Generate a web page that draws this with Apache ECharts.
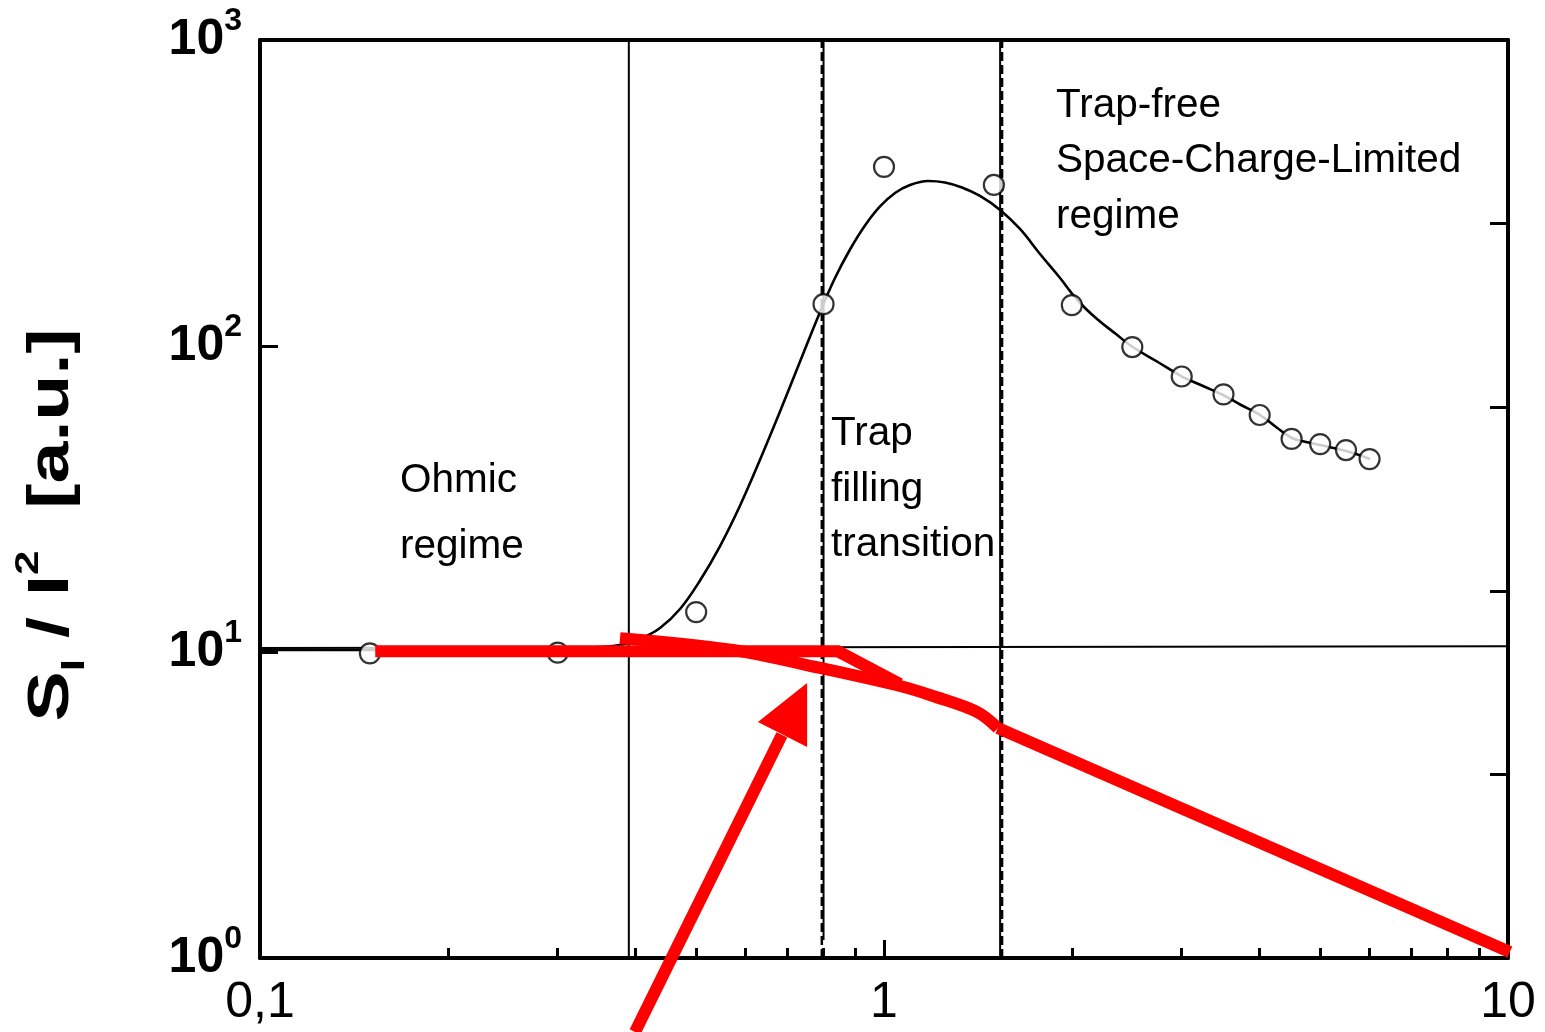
<!DOCTYPE html>
<html>
<head>
<meta charset="utf-8">
<script src="https://cdn.jsdelivr.net/npm/echarts@6/dist/echarts.min.js"></script>
<style>
  html, body { margin: 0; padding: 0; background: #ffffff; }
  #chart { width: 1545px; height: 1032px; }
</style>
</head>
<body>
<div id="chart"></div>
<script>
// Measured normalized noise S_I / I^2 versus bias
const measuredX = [0.15, 0.3, 0.5, 0.8, 1.0, 1.5, 2.0, 2.5, 3.0, 3.5, 4.0, 4.5, 5.0, 5.5, 6.0];
const measuredY = [9.9, 9.95, 13.5, 137, 385, 336, 136, 99.2, 79.5, 69.5, 59.5, 49.7, 47.8, 45.7, 42.7];

// Model curve across the three regimes
const fitX = [0.1, 0.2016, 0.3025, 0.3507, 0.3776, 0.4064, 0.4376, 0.4711, 0.5072, 0.5461,
              0.588, 0.6331, 0.6813, 0.7336, 0.7899, 0.8346, 0.8821, 0.9323, 0.9854, 1.0414, 1.1007,
              1.1761, 1.2524, 1.3335, 1.4251, 1.5347, 1.6517, 1.7783, 1.9149, 2.001, 2.1073, 2.219,
              2.3537, 2.4967, 2.7384, 3.0036, 3.245, 3.4939, 3.7337, 4.0059, 4.2482, 4.5066, 4.7455,
              4.997, 5.502, 6.0096];
const fitY = [10.15, 10.15, 10.23, 10.38, 10.54, 11.03, 11.98, 13.82, 17.13, 22.2,
              30.12, 42.57, 61.08, 89.0, 129.2, 166.8, 206.7, 247.6, 285.7, 316.2, 335.9,
              346.2, 342.3, 329.6, 309.2, 278.3, 241.2, 199.8, 166.8, 148.4, 132.1, 120.3,
              109.4, 99.6, 88.99, 79.47, 73.99, 69.17, 64.15, 59.49, 54.36, 50.05, 48.57,
              47.48, 45.39, 42.74];

// Ohmic plateau level
const plateauX = [0.1, 10];
const plateauY = [10.3, 10.45];

// Regime boundaries (solid and dashed markers)
const boundarySolidX = [0.39, 0.80, 1.535];
const boundarySolidBottom = [1, 1.145, 1];
const boundaryDashedX = [0.795, 1.546];

// Hand-drawn red guide lines
const redAX = [0.153, 0.844, 1.061];
const redAY = [10.05, 10.05, 7.86];
const redBX = [0.3775, 0.573, 0.790, 1.061, 1.198, 1.409, 1.522];
const redBY = [11.1, 10.15, 8.87, 7.74, 7.18, 6.37, 5.64];
const redCX = [1.522, 10.07];
const redCY = [5.64, 1.046];

// Red arrow: tail, neck and head triangle
const arrowTail = [0.399, 0.573];
const arrowNeck = [0.686, 5.36];
const arrowHeadX = [0.753, 0.628, 0.753];
const arrowHeadY = [7.92, 5.90, 4.89];

// Regime annotations, one entry per text line
const noteText = ['Ohmic', 'regime', 'Trap', 'filling', 'transition', 'Trap-free', 'Space-Charge-Limited', 'regime'];
const noteX = [0.1676, 0.1676, 0.8224, 0.8224, 0.8224, 1.8867, 1.8867, 1.8867];
const noteY = [36.22, 22.04, 51.57, 33.83, 22.37, 608.6, 402.4, 264.0];

// Axis tick labels
const xTickLabels = { '0.1': '0,1', '1': '1', '10': '10' };

const FONT = "'Liberation Sans', Arial, Helvetica, sans-serif";
const pair = (xs, ys) => xs.map((x, i) => [x, ys[i]]);

const series = [];

boundarySolidX.forEach((x, i) => {
  series.push({
    type: 'line', data: [[x, boundarySolidBottom[i]], [x, 1000]], symbol: 'none', silent: true,
    lineStyle: { color: '#000', width: 2 }, z: 2
  });
});
boundaryDashedX.forEach((x) => {
  series.push({
    type: 'line', data: [[x, 1], [x, 1000]], symbol: 'none', silent: true,
    lineStyle: { color: '#000', width: 2.5, type: [9, 4] }, z: 2
  });
});

series.push({
  type: 'line', data: pair(plateauX, plateauY), symbol: 'none', silent: true,
  lineStyle: { color: '#000', width: 2 }, z: 2
});

series.push({
  type: 'line', data: pair(fitX, fitY), symbol: 'none', smooth: 0.4, silent: true,
  lineStyle: { color: '#000', width: 2.6 }, z: 3
});

series.push({
  type: 'scatter', data: pair(measuredX, measuredY), symbol: 'circle', symbolSize: 20, silent: true,
  itemStyle: { color: '#ffffff', borderColor: '#000', borderWidth: 2.2 }, z: 4
});

[[redAX, redAY, false], [redBX, redBY, 0.35], [redCX, redCY, false]].forEach(([xs, ys, sm]) => {
  series.push({
    type: 'line', data: pair(xs, ys), symbol: 'none', clip: false, silent: true, smooth: sm,
    lineStyle: { color: '#ff0000', width: 12, cap: 'butt', join: 'miter' }, z: 6
  });
});

// arrow drawn through the axis scales
series.push({
  type: 'custom', coordinateSystem: 'cartesian2d', clip: false, silent: true, z: 7,
  data: [[arrowHeadX[0], arrowHeadY[0]]],
  renderItem: function (params, api) {
    const a = api.coord(arrowTail);
    const b = api.coord(arrowNeck);
    const head = arrowHeadX.map((x, i) => api.coord([x, arrowHeadY[i]]));
    return {
      type: 'group',
      children: [
        { type: 'line', shape: { x1: a[0], y1: a[1], x2: b[0], y2: b[1] },
          style: { stroke: '#ff0000', lineWidth: 12 } },
        { type: 'polygon', shape: { points: head }, style: { fill: '#ff0000' } }
      ]
    };
  }
});

// regime annotations
series.push({
  type: 'custom', coordinateSystem: 'cartesian2d', clip: false, silent: true, z: 8,
  data: pair(noteX, noteY),
  renderItem: function (params, api) {
    const p = api.coord([api.value(0), api.value(1)]);
    return {
      type: 'text', x: p[0], y: p[1],
      style: {
        text: noteText[params.dataIndex], fill: '#000', font: '40.5px ' + FONT,
        align: 'left', verticalAlign: 'middle'
      }
    };
  }
});

const boldRich = (size, extra) => Object.assign({ fontSize: size, fontWeight: 'bold', fontFamily: FONT, color: '#000' }, extra);

const chart = echarts.init(document.getElementById('chart'), null, { renderer: 'canvas' });
chart.setOption({
  animation: false,
  backgroundColor: '#ffffff',
  grid: { left: 260, top: 40, right: 37, bottom: 74, show: false },
  // y-axis title, set vertically and stretched along its reading direction
  graphic: [{
    type: 'text', x: 52, y: 525, rotation: Math.PI / 2, scaleX: 1.3, silent: true,
    style: {
      text: '{t|S}{sub|I}{t| / I}{sup|2}{t|  [a.u.]}',
      align: 'center', verticalAlign: 'middle',
      rich: {
        t: boldRich(58, { lineHeight: 80 }),
        sub: boldRich(34, { lineHeight: 34, verticalAlign: 'bottom' }),
        sup: boldRich(34, { lineHeight: 34, verticalAlign: 'top' })
      }
    }
  }],
  xAxis: [{
    type: 'log', logBase: 10, min: 0.1, max: 10, position: 'bottom',
    axisLine: { show: true, lineStyle: { color: '#000', width: 4 } },
    axisTick: { show: true, inside: true, length: 18, lineStyle: { color: '#000', width: 3 } },
    minorTick: { show: true, splitNumber: 9, length: 10, lineStyle: { color: '#000', width: 3 } },
    splitLine: { show: false }, minorSplitLine: { show: false },
    axisLabel: {
      color: '#000', fontSize: 50, fontFamily: FONT, margin: 20,
      formatter: function (v) {
        const key = String(Math.round(v * 1000) / 1000);
        return xTickLabels[key] !== undefined ? xTickLabels[key] : '';
      }
    }
  }, {
    type: 'log', logBase: 10, min: 0.1, max: 10, position: 'top',
    axisLine: { show: true, lineStyle: { color: '#000', width: 4 } },
    axisTick: { show: false }, axisLabel: { show: false }, splitLine: { show: false }
  }],
  yAxis: [{
    type: 'log', logBase: 10, min: 1, max: 1000, position: 'left',
    axisLine: { show: true, lineStyle: { color: '#000', width: 4 } },
    axisTick: { show: true, inside: true, length: 18, lineStyle: { color: '#000', width: 3 } },
    splitLine: { show: false },
    axisLabel: {
      margin: 18,
      formatter: function (v) { return '{b|10}{s|' + Math.round(Math.log10(v)) + '}'; },
      rich: {
        b: boldRich(50, { lineHeight: 70 }),
        s: boldRich(32, { lineHeight: 30, verticalAlign: 'top' })
      }
    }
  }, {
    type: 'value', min: 0, max: 5, interval: 1, position: 'right',
    axisLine: { show: true, lineStyle: { color: '#000', width: 4 } },
    axisTick: { show: true, inside: true, length: 18, lineStyle: { color: '#000', width: 3 } },
    axisLabel: { show: false }, splitLine: { show: false }
  }],
  series: series
});
</script>
</body>
</html>
